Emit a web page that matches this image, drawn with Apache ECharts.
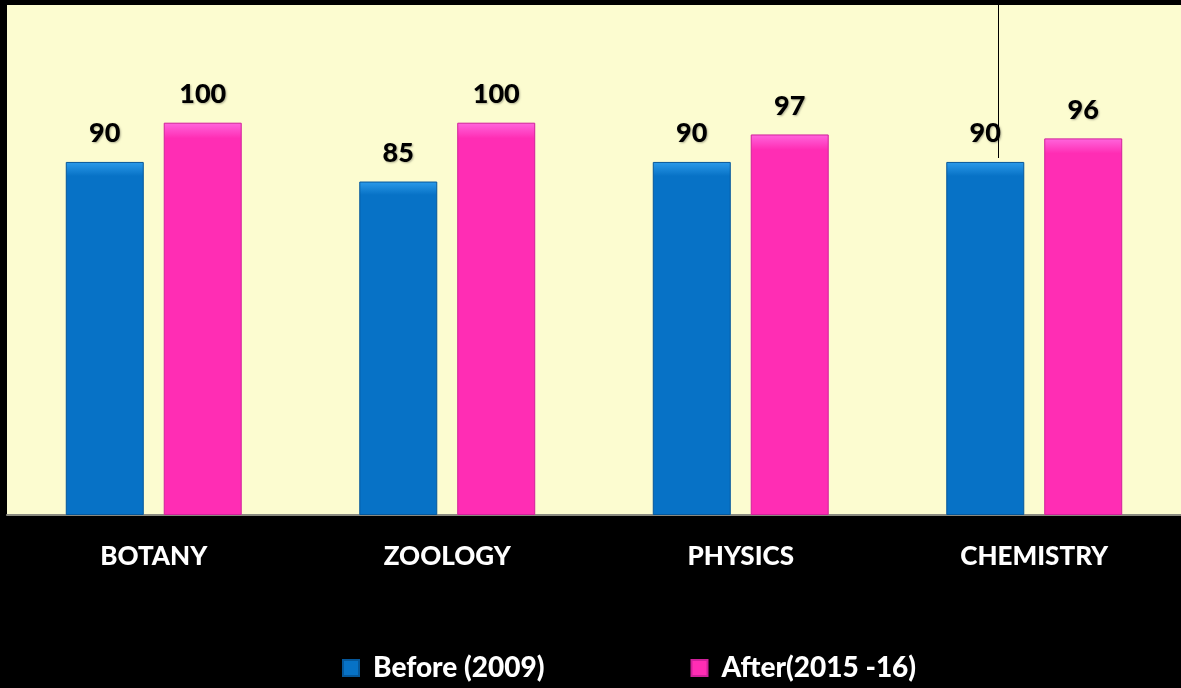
<!DOCTYPE html>
<html>
<head>
<meta charset="utf-8">
<script src="https://cdn.jsdelivr.net/npm/echarts@6/dist/echarts.min.js"></script>
<style>
  html, body { margin: 0; padding: 0; background: #000; }
  #chart { width: 1181px; height: 688px; }
</style>
</head>
<body>
<div id="chart"></div>
<script>
  const categories = ['BOTANY', 'ZOOLOGY', 'PHYSICS', 'CHEMISTRY']
  const beforeValues = [90, 85, 90, 90]
  const afterValues = [100, 100, 97, 96]
  const seriesNames = ['Before (2009)', 'After(2015 -16)']

  const chart = echarts.init(document.getElementById('chart'))

  const labelStyle = {
    show: true,
    position: 'top',
    distance: 15,
    color: '#000',
    fontFamily: 'Lato',
    fontWeight: 900,
    fontSize: 27,
    textShadowColor: 'rgba(0,0,0,0.3)',
    textShadowBlur: 2,
    textShadowOffsetX: 1,
    textShadowOffsetY: 1
  }

  const options = {
    backgroundColor: '#000',
    animation: false,
    grid: {
      show: true,
      left: 7,
      right: 0,
      top: 5,
      height: 510,
      backgroundColor: '#FCFCD0',
      borderWidth: 0
    },
    legend: {
      data: seriesNames,
      bottom: 1,
      left: 337,
      itemWidth: 16,
      itemHeight: 16,
      itemGap: 146,
      icon: 'rect',
      textStyle: {
        color: '#fff',
        fontFamily: 'Lato',
        fontWeight: 900,
        fontSize: 28,
        padding: [0, 0, 0, 9]
      }
    },
    xAxis: {
      type: 'category',
      data: categories,
      axisTick: { show: false },
      axisLine: { show: true, lineStyle: { color: '#8a8a80', width: 2 } },
      axisLabel: {
        color: '#fff',
        fontFamily: 'Lato',
        fontWeight: 900,
        fontSize: 26,
        margin: 29
      }
    },
    yAxis: {
      type: 'value',
      min: 0,
      max: 130,
      show: false,
      splitLine: { show: false }
    },
    series: [
      {
        name: seriesNames[0],
        type: 'bar',
        data: beforeValues,
        barWidth: 78,
        barGap: '25.6%',
        itemStyle: {
          color: new echarts.graphic.LinearGradient(0, 0, 0, 1, [
            { offset: 0, color: '#2C9BEA' },
            { offset: 0.04, color: '#0772C6' },
            { offset: 1, color: '#0772C6' }
          ]),
          borderColor: '#05579a',
          borderWidth: 1
        },
        label: labelStyle
      },
      {
        name: seriesNames[1],
        type: 'bar',
        data: afterValues,
        barWidth: 78,
        itemStyle: {
          color: new echarts.graphic.LinearGradient(0, 0, 0, 1, [
            { offset: 0, color: '#FF66DD' },
            { offset: 0.04, color: '#FF2DB4' },
            { offset: 1, color: '#FF2DB4' }
          ]),
          borderColor: '#d0209a',
          borderWidth: 1
        },
        label: labelStyle
      }
    ],
    graphic: [
      {
        type: 'line',
        shape: { x1: 998.5, y1: 5, x2: 998.5, y2: 158 },
        style: { stroke: '#000', lineWidth: 1 }
      }
    ]
  }

  chart.setOption(options, true)
</script>
</body>
</html>
